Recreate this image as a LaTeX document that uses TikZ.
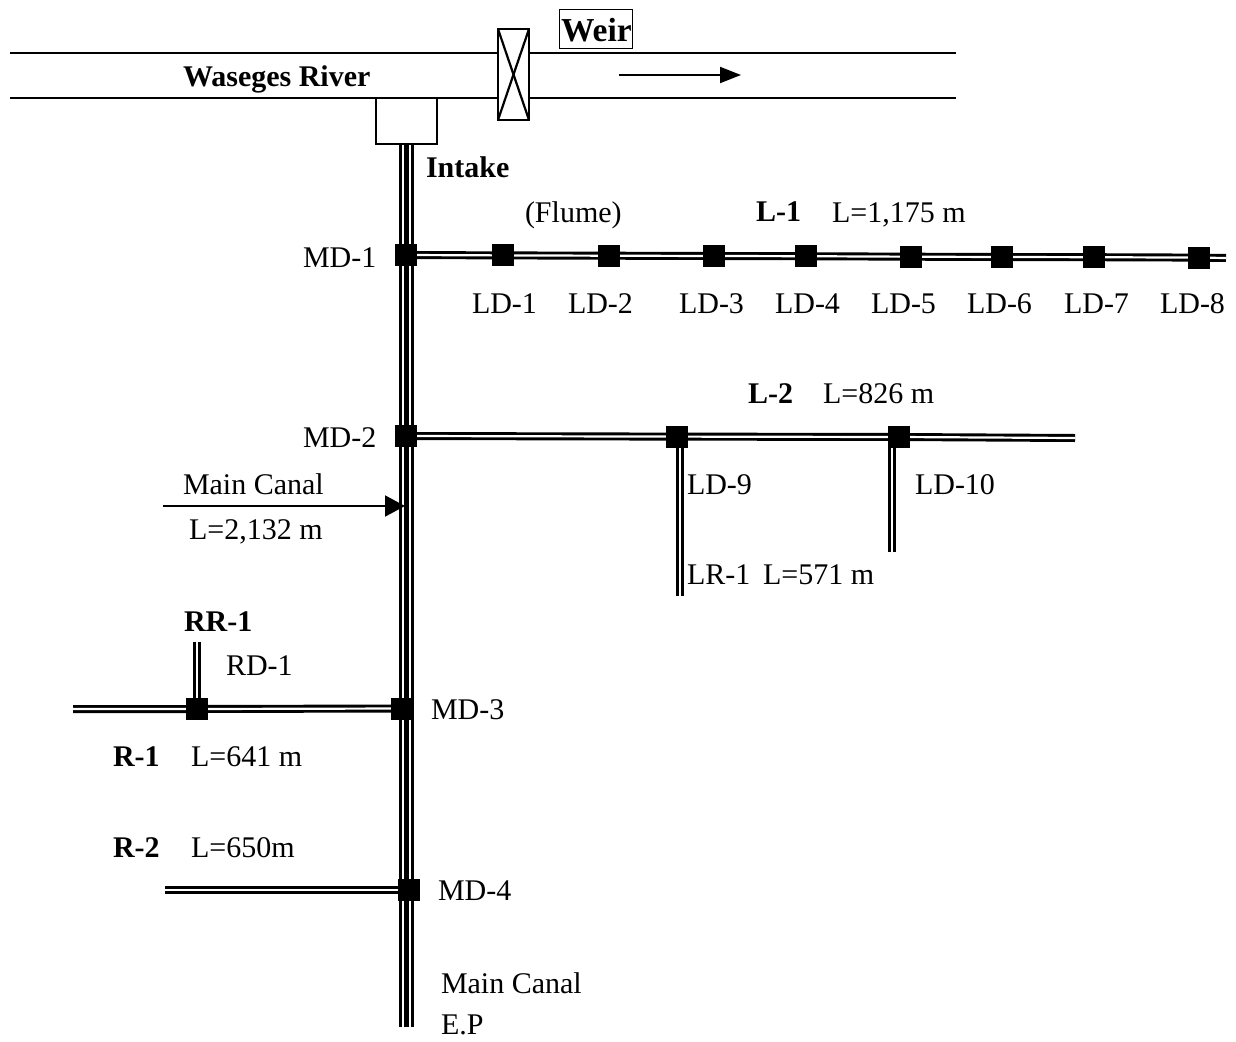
\documentclass[tikz,border=0pt]{standalone}
\usepackage{fontspec}
\setmainfont{Liberation Serif}
\usetikzlibrary{arrows.meta,backgrounds}
\tikzset{
  lbl/.style={anchor=base west,inner sep=0pt,outer sep=0pt,font=\fontsize{30}{31}\selectfont},
  blbl/.style={lbl,font=\fontsize{30}{31}\selectfont\bfseries},
  gate/.style={draw=none,fill=black,minimum width=22pt,minimum height=22pt,inner sep=0pt,outer sep=0pt},
  canal/.style={line width=8pt,black,postaction={draw,white,line width=2.2pt}},
  maincanal/.style={line width=14.5pt,black,postaction={draw,white,line width=9.6pt},postaction={draw,black,line width=4.6pt}},
  river/.style={line width=1.8pt,black},
  flow/.style={line width=2pt,black,-{Triangle[length=20pt,width=21pt]}},
  box/.style={draw=black,line width=2pt,fill=white,inner sep=0pt,outer sep=0pt},
}
\begin{document}
\begin{tikzpicture}[x=1pt,y=-1pt]
\useasboundingbox (0,0) rectangle (1236,1041);
% free ends
\coordinate (rtl) at (10,53); \coordinate (rtr) at (956,53);
\coordinate (rbl) at (10,98); \coordinate (rbr) at (956,98);
\coordinate (mainTop) at (406.5,144); \coordinate (mainEnd) at (406.5,1027);
\coordinate (l1End) at (1226,258); \coordinate (l2End) at (1075,438);
\coordinate (r1End) at (73,709); \coordinate (r2End) at (165,890);
\coordinate (rr1End) at (197,642); \coordinate (lr1Top) at (680,437); \coordinate (lr1End) at (680,596);
\coordinate (ld10Top) at (892,437); \coordinate (ld10End) at (892,552);
\coordinate (flowA) at (619,75); \coordinate (flowB) at (741,75);
\coordinate (mcA) at (163,506); \coordinate (mcB) at (405,506);
% gate nodes
\node[gate] (MD1) at (406,255) {};
\node[gate] (LD1) at (503,255.4) {};
\node[gate] (LD2) at (609,255.7) {};
\node[gate] (LD3) at (714,256) {};
\node[gate] (LD4) at (806,256.2) {};
\node[gate] (LD5) at (911,256.7) {};
\node[gate] (LD6) at (1002,257) {};
\node[gate] (LD7) at (1094,257.2) {};
\node[gate] (LD8) at (1199,257.6) {};
\node[gate] (MD2) at (406,436) {};
\node[gate] (LD9) at (677,436.6) {};
\node[gate] (LD10) at (899,437) {};
\node[gate,minimum width=23pt] (MD3) at (402.5,708.5) {};
\node[gate] (RD1) at (197,709) {};
\node[gate] (MD4) at (409,890) {};
% river and canals, behind the gates
\begin{pgfonlayer}{background}
\draw[river] (rtl) -- (rtr);
\draw[river] (rbl) -- (rbr);
\draw[canal] (MD1.center) -- (LD1.center) -- (LD2.center) -- (LD3.center) -- (LD4.center) -- (LD5.center) -- (LD6.center) -- (LD7.center) -- (LD8.center) -- (l1End);
\draw[canal] (MD2.center) -- (LD9.center) -- (LD10.center) -- (l2End);
\draw[canal] (lr1Top) -- (lr1End);
\draw[canal] (ld10Top) -- (ld10End);
\draw[canal] (r1End) -- (RD1.center) -- (MD3.center);
\draw[canal] (rr1End) -- (RD1.center);
\draw[canal] (r2End) -- (MD4.center);
\draw[maincanal] (mainTop) -- (mainEnd);
\end{pgfonlayer}
% intake and weir
\node[box,minimum width=61pt,minimum height=46pt,anchor=north west] (intakeBox) at (376,98) {};
\node[box,minimum width=31pt,minimum height=91pt,anchor=north west] (weirBox) at (498,29) {};
\draw[line width=2.2pt] (weirBox.north west) -- (weirBox.south east);
\draw[line width=2.2pt] (weirBox.north east) -- (weirBox.south west);
\node[draw=black,line width=0.9pt,minimum width=73pt,minimum height=39pt,anchor=north west,inner sep=0pt] (weirLabel) at (559,9) {};
% arrows
\draw[line width=2pt,black,-{Triangle[length=21pt,width=16pt]}] (flowA) -- (flowB);
\draw[flow] (mcA) -- (mcB);
% labels
\node[blbl] (tRiver) at (183,86) {Waseges River};
\node[lbl,font=\fontsize{33.5}{34}\selectfont\bfseries] (tWeir) at (561,42) {Weir};
\node[blbl] (tIntake) at (426,177) {Intake};
\node[lbl] (tFlume) at (525,222) {(Flume)};
\node[blbl] (tL1) at (756,221) {L-1};
\node[lbl] (tL1len) at (832,222) {L=1,175 m};
\node[lbl] (tMD1) at (303,267) {MD-1};
\node[lbl] (tLD1) at (472,313) {LD-1};
\node[lbl] (tLD2) at (568,313) {LD-2};
\node[lbl] (tLD3) at (679,313) {LD-3};
\node[lbl] (tLD4) at (775,313) {LD-4};
\node[lbl] (tLD5) at (871,313) {LD-5};
\node[lbl] (tLD6) at (967,313) {LD-6};
\node[lbl] (tLD7) at (1064,313) {LD-7};
\node[lbl] (tLD8) at (1160,313) {LD-8};
\node[blbl] (tL2) at (748,403) {L-2};
\node[lbl] (tL2len) at (823,403) {L=826 m};
\node[lbl] (tMD2) at (303,447) {MD-2};
\node[lbl] (tMain) at (183,494) {Main Canal};
\node[lbl] (tMainLen) at (189,539) {L=2,132 m};
\node[lbl] (tLD9) at (687,494) {LD-9};
\node[lbl] (tLD10) at (915,494) {LD-10};
\node[lbl] (tLR1) at (687,584) {LR-1};
\node[lbl] (tLR1len) at (763,584) {L=571 m};
\node[blbl] (tRR1) at (184,631) {RR-1};
\node[lbl] (tRD1) at (226,675) {RD-1};
\node[lbl] (tMD3) at (431,719) {MD-3};
\node[blbl] (tR1) at (113,766) {R-1};
\node[lbl] (tR1len) at (191,766) {L=641 m};
\node[blbl] (tR2) at (113,857) {R-2};
\node[lbl] (tR2len) at (191,857) {L=650m};
\node[lbl] (tMD4) at (438,900) {MD-4};
\node[lbl] (tEnd) at (441,993) {Main Canal};
\node[lbl] (tEP) at (441,1034) {E.P};
\end{tikzpicture}
\end{document}
